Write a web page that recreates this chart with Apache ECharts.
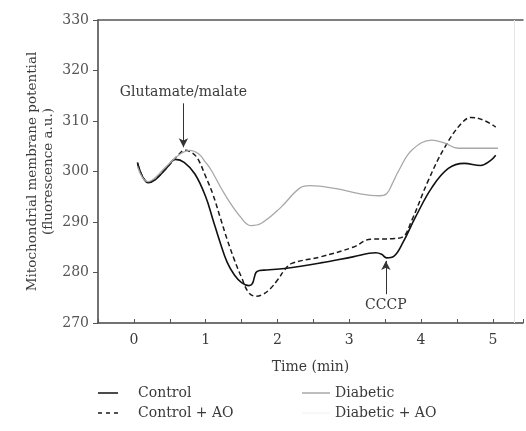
<!DOCTYPE html>
<html>
<head>
<meta charset="utf-8">
<script src="https://cdn.jsdelivr.net/npm/echarts@6/dist/echarts.min.js"></script>
<style>
html,body{margin:0;padding:0;background:#fff;}
#chart{width:526px;height:431px;}
</style>
</head>
<body>
<div id="chart"></div>
<script>
// ---- data ----
var controlT = [0.05,0.12,0.2,0.3,0.45,0.58,0.7,0.85,1.0,1.1,1.2,1.3,1.4,1.5,1.6,1.65,1.7,1.75,1.85,2.1,2.6,3.05,3.37,3.45,3.52,3.62,3.75,3.92,4.15,4.38,4.6,4.83,4.97,5.04];
var controlV = [301.8,299.0,297.8,298.4,300.6,302.4,301.8,299.5,295.0,290.5,286.0,282.0,279.5,278.0,277.4,277.8,280.0,280.4,280.5,280.8,281.9,283.1,283.9,283.6,282.9,283.2,286.0,290.9,296.8,300.6,301.6,301.2,302.2,303.2];

var controlAOT = [0.05,0.12,0.2,0.3,0.45,0.6,0.71,0.8,0.89,1.0,1.1,1.2,1.3,1.4,1.5,1.6,1.7,1.8,1.9,2.0,2.1,2.2,2.6,3.05,3.3,3.6,3.74,3.87,4.1,4.33,4.56,4.7,4.88,5.04];
var controlAOV = [301.6,299.0,297.9,298.6,300.6,303.0,304.2,303.8,302.5,299.0,295.5,291.0,286.5,282.5,279.0,276.0,275.3,275.7,276.8,278.5,280.5,281.8,283.1,285.0,286.6,286.7,287.0,290.3,298.2,304.8,309.5,310.7,310.1,308.8];

var diabeticT = [0.05,0.12,0.2,0.3,0.45,0.65,0.78,0.9,1.0,1.08,1.26,1.49,1.63,1.77,2.04,2.32,2.45,2.82,3.14,3.42,3.52,3.6,3.69,3.87,4.15,4.33,4.52,5.07];
var diabeticV = [301.0,298.8,298.0,298.8,301.0,303.5,304.2,303.5,301.8,300.2,295.6,290.9,289.3,289.7,292.8,296.8,297.2,296.6,295.6,295.2,295.6,297.6,300.2,304.2,306.2,305.6,304.6,304.6];

var diabeticAOT = [];
var diabeticAOV = [];

var seriesNames = ['Control','Control + AO','Diabetic','Diabetic + AO'];
var xTickLabels = ['0','1','2','3','4','5'];
var yTicks = [270,280,290,300,310,320,330];

// annotations: [time, arrow start value, arrow end value, text]
var glutamateArrow = [0.69, 313.5, 304.8, 'Glutamate/malate'];
var cccpArrow = [3.51, 275.7, 282.3, 'CCCP'];
var frameRightT = 5.3;

function pairs(t, v){ return t.map(function(x,i){ return [x, v[i]]; }); }

var FONT = 'DejaVu Serif';
var TXT = '#3a3a3a';

var ICON_SOLID = 'path://M0,0H20V1.5H0Z';
var ICON_DASH = 'path://M0,0H4V1.5H0Z M8,0H12V1.5H8Z M16,0H20V1.5H16Z';
var ICON_NONE = 'path://M0,0H28V1.5H0Z';

var chart = echarts.init(document.getElementById('chart'), null, {renderer:'canvas'});

function arrowItem(a){
  return [
    {coord:[a[0], a[1]], label:{show:true, position:'start', distance:4, formatter:a[3], color:TXT, fontFamily:FONT, fontSize:14}},
    {coord:[a[0], a[2]]}
  ];
}

var legendText = {color:TXT, fontFamily:FONT, fontSize:14, lineHeight:18};

var option = {
  animation:false,
  backgroundColor:'#fff',
  grid:{left:98, right:0, top:20, bottom:108, containLabel:false},
  xAxis:[{
    type:'value', min:-0.5, max:5.42, interval:0.5,
    name:'Time (min)', nameLocation:'middle', nameGap:37, nameMoveOverlap:false,
    nameTextStyle:{color:TXT, fontFamily:FONT, fontSize:14},
    axisLine:{show:true, onZero:false, lineStyle:{color:'#444', width:1.5}},
    axisTick:{show:true, inside:true, length:4, lineStyle:{color:'#555'}},
    splitLine:{show:false},
    axisLabel:{color:TXT, fontFamily:FONT, fontSize:14, margin:10,
      formatter:function(v){
        var r = Math.round(v);
        if (Math.abs(v-r) < 1e-6 && r >= 0 && r < xTickLabels.length) return xTickLabels[r];
        return '';
      }}
  },{
    type:'value', position:'top', min:-0.5, max:5.42,
    axisLine:{show:true, onZero:false, lineStyle:{color:'#555', width:1.5}},
    axisTick:{show:false}, axisLabel:{show:false}, splitLine:{show:false}
  }],
  yAxis:{
    type:'value', min:yTicks[0], max:yTicks[yTicks.length-1], interval:10,
    name:'Mitochondrial membrane potential\n(fluorescence a.u.)',
    nameLocation:'middle', nameGap:42, nameRotate:90, nameMoveOverlap:false,
    nameTextStyle:{color:TXT, fontFamily:FONT, fontSize:13.5, lineHeight:16, align:'center'},
    axisLine:{show:true, onZero:false, lineStyle:{color:'#444', width:1.5}},
    axisTick:{show:true, inside:false, length:5, lineStyle:{color:'#555'}},
    splitLine:{show:false},
    axisLabel:{color:'#555', fontFamily:FONT, fontSize:14, margin:9}
  },
  legend:[{
    id:'legA',
    data:[{name:seriesNames[0], icon:ICON_SOLID},{name:seriesNames[1], icon:ICON_DASH}],
    orient:'vertical', left:98, top:384, padding:0, height:44,
    itemWidth:20, itemHeight:1.5, itemGap:2,
    textStyle:Object.assign({}, legendText, {padding:[0,0,0,15]}),
    selectedMode:false
  },{
    id:'legB',
    data:[{name:seriesNames[2], icon:ICON_NONE},{name:seriesNames[3], icon:ICON_NONE}],
    orient:'vertical', left:302, top:384, padding:0, height:44,
    itemWidth:28, itemHeight:1.5, itemGap:2,
    textStyle:legendText,
    selectedMode:false
  }],
  series:[{
    name:seriesNames[0], type:'line', data:pairs(controlT, controlV),
    smooth:0.4, symbol:'none', lineStyle:{color:'#111', width:1.6, type:'solid'}, itemStyle:{color:'#111'},
    markLine:{silent:true, symbol:['none','arrow'], symbolSize:[7,9],
      lineStyle:{color:'#333', width:1, type:'solid'},
      data:[arrowItem(glutamateArrow), arrowItem(cccpArrow)]}
  },{
    name:seriesNames[1], type:'line', data:pairs(controlAOT, controlAOV),
    smooth:0.4, symbol:'none', lineStyle:{color:'#1a1a1a', width:1.5, type:[5,3]}, itemStyle:{color:'#1a1a1a'}
  },{
    name:seriesNames[2], type:'line', data:pairs(diabeticT, diabeticV),
    smooth:0.4, symbol:'none', lineStyle:{color:'#a8a8a8', width:1.3}, itemStyle:{color:'#a8a8a8'},
    markLine:{silent:true, symbol:['none','none'], label:{show:false},
      lineStyle:{color:'#e6e6e6', width:1, type:'solid'},
      data:[{xAxis:frameRightT}]}
  },{
    name:seriesNames[3], type:'line', data:pairs(diabeticAOT, diabeticAOV),
    smooth:0.4, symbol:'none', lineStyle:{color:'#f6f6f6', width:1}, itemStyle:{color:'#f6f6f6'}
  }]
};
chart.setOption(option);
</script>
</body>
</html>
